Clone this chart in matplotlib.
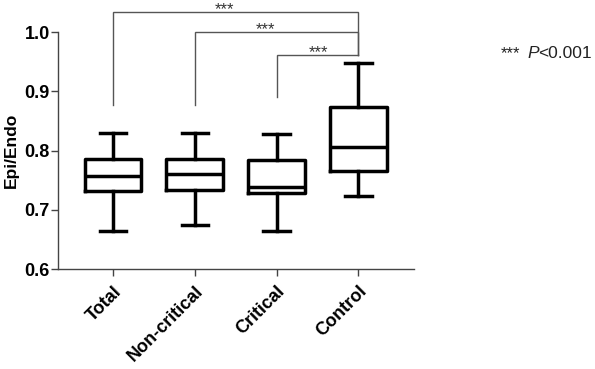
import matplotlib
matplotlib.use("Agg")
import matplotlib.pyplot as plt

plt.rcParams['font.family'] = ['Liberation Sans', 'DejaVu Sans']

categories = ["Total", "Non-critical", "Critical", "Control"]
whisker_low = [0.665, 0.674, 0.665, 0.724]
q1 = [0.732, 0.733, 0.729, 0.765]
median = [0.757, 0.760, 0.739, 0.806]
q3 = [0.785, 0.785, 0.784, 0.873]
whisker_high = [0.830, 0.830, 0.828, 0.948]

y_ticks = [0.6, 0.7, 0.8, 0.9, 1.0]

# significance brackets: (left group, right group, bracket y, left leg bottom, star x)
brackets = [
    (0, 3, 1.034, 0.877, 1.36),
    (1, 3, 1.000, 0.877, 1.86),
    (2, 3, 0.962, 0.891, 2.51),
]

fig = plt.figure(figsize=(5.95, 3.69), dpi=100)
ax = fig.add_axes([0.0975, 0.271, 0.5985, 0.642])

stats = []
for i, c in enumerate(categories):
    stats.append(dict(label=c, med=median[i], q1=q1[i], q3=q3[i],
                      whislo=whisker_low[i], whishi=whisker_high[i], fliers=[]))

pos = list(range(len(categories)))
lw = 2.5
ax.bxp(stats, positions=pos, widths=0.69, showfliers=False,
       boxprops=dict(color='black', linewidth=lw),
       medianprops=dict(color='black', linewidth=lw),
       whiskerprops=dict(color='black', linewidth=lw),
       capprops=dict(color='black', linewidth=lw),
       capwidths=0.32)

ax.set_xlim(-0.67, 3.68)
ax.set_ylim(0.6, 1.0)
ax.set_yticks(y_ticks)
ax.set_yticklabels([f"{t:.1f}" for t in y_ticks], fontsize=13, fontweight='bold')
ax.set_xticks(pos)
ax.set_xticklabels(categories, rotation=45, ha='right', rotation_mode='anchor',
                   fontsize=13, fontweight='bold')
ax.set_ylabel("Epi/Endo", fontsize=12.5, fontweight='bold', labelpad=4)

for s in ['top', 'right']:
    ax.spines[s].set_visible(False)
for s in ['left', 'bottom']:
    ax.spines[s].set_color('#444444')
    ax.spines[s].set_linewidth(1.0)
ax.tick_params(axis='both', direction='out', length=5, width=1.0, color='#444444')
ax.tick_params(axis='y', pad=1)
ax.tick_params(axis='x', pad=5)

bcol = '#555555'
for (a, b, y, leg, sx) in brackets:
    ax.plot([a, a, b, b], [leg, y, y, brackets[2][2]], color=bcol, lw=1.0,
            clip_on=False, solid_joinstyle='miter')
    ax.text(sx, y - 0.004, "***", ha='center', va='baseline', fontsize=12,
            color='#333333', clip_on=False)

fig.text(501 / 595, 1 - 58 / 369, "***", fontsize=12, color='#222222',
         ha='left', va='baseline')
fig.text(527 / 595, 1 - 58 / 369, "P", fontsize=12.5, style='italic',
         color='#222222', ha='left', va='baseline')
fig.text(538 / 595, 1 - 58 / 369, "<0.001", fontsize=12.5, color='#222222',
         ha='left', va='baseline')

fig.savefig("out.png", dpi=100)
